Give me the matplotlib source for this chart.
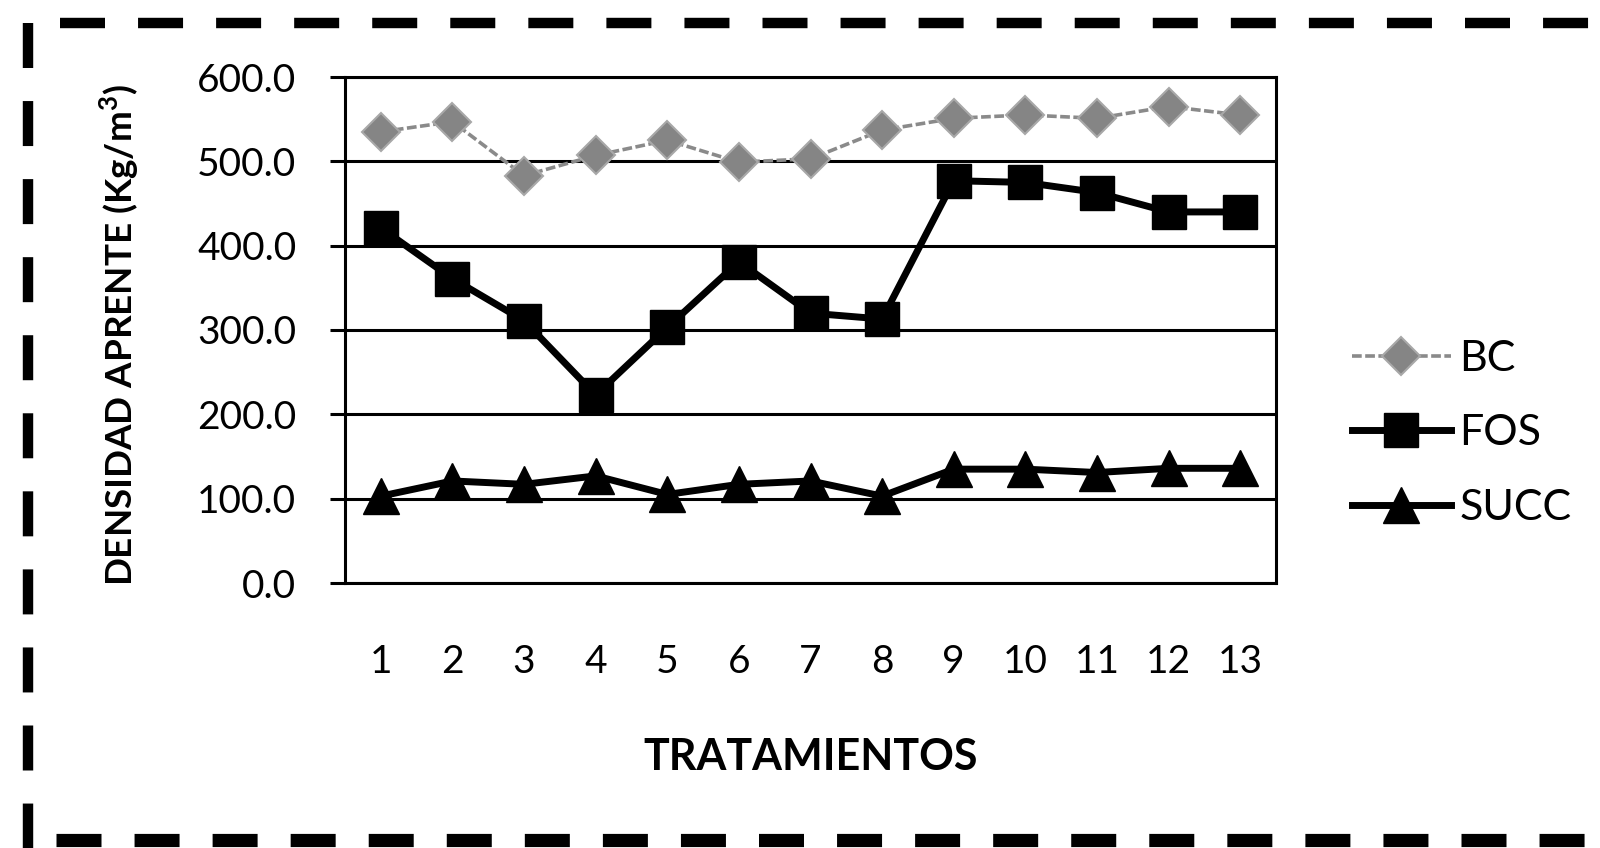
import matplotlib
matplotlib.use("Agg")
import matplotlib.pyplot as plt
from matplotlib.lines import Line2D
from matplotlib.ticker import FormatStrFormatter

plt.rcParams['font.family'] = ['Lato', 'DejaVu Sans']
plt.rcParams['lines.scale_dashes'] = False

# data
tratamientos = list(range(1, 14))
bc = [535, 547, 483, 507, 525, 499, 503, 537, 551, 555, 551, 565, 555]
fos = [421, 361, 311, 223, 303, 381, 320, 313, 477, 475, 463, 440, 440]
succ = [103, 121, 117, 127, 105, 117, 121, 103, 135, 135, 131, 136, 136]
y_ticks = [0, 100, 200, 300, 400, 500, 600]

W, H = 1600, 848
fig = plt.figure(figsize=(W / 100, H / 100), dpi=100)
ax = fig.add_axes([345 / W, 1 - 583 / H, 931 / W, 506 / H])

ax.plot(tratamientos, bc, color='#8a8a8a', lw=2.6, dashes=(7, 2.5),
        marker='D', markersize=19, markerfacecolor='#858585',
        markeredgecolor='#a8a8a8', markeredgewidth=1.5, label='BC', zorder=3)
ax.plot(tratamientos, fos, color='black', lw=5, marker='s', markersize=25,
        label='FOS', zorder=4)
ax.plot(tratamientos, succ, color='black', lw=5, marker='^', markersize=26,
        label='SUCC', zorder=4)

ax.set_xlim(0.5, 13.5)
ax.set_ylim(0, 600)
ax.set_xticks(tratamientos)
ax.set_yticks(y_ticks)
ax.yaxis.set_major_formatter(FormatStrFormatter('%.1f'))
ax.yaxis.grid(True, color='black', lw=2.2)
ax.set_axisbelow(True)
for s in ax.spines.values():
    s.set_linewidth(2.2)
ax.tick_params(axis='y', length=11, width=2.2, pad=24, labelsize=28)
ax.tick_params(axis='x', length=0, pad=44, labelsize=28)

ax.set_xlabel('TRATAMIENTOS', fontsize=31, fontweight='bold')
ax.xaxis.set_label_coords(0.5, -0.305)
ax.set_ylabel('DENSIDAD APRENTE (Kg/m$^\\mathregular{3}$)', fontsize=26.5,
              fontweight='bold')
ax.yaxis.set_label_coords(-0.218, 0.49)

ax.legend(loc='center left', bbox_to_anchor=(1.0816, 0.296), frameon=False,
          fontsize=31, borderpad=0, borderaxespad=0, handlelength=2.3,
          handletextpad=0.2, labelspacing=0.85)

# dashed frame around the figure (pixel positions from the scan)
def frame_line(xs, ys, lw):
    fig.add_artist(Line2D([x / W for x in xs], [1 - y / H for y in ys],
                          transform=fig.transFigure, color='black', lw=lw,
                          dashes=(32.4, 23.8), solid_capstyle='butt',
                          dash_capstyle='butt'))

frame_line([60, W], [23, 23], 7.5)
frame_line([28, 28], [23, H], 7.5)
frame_line([56, W], [840, 840], 9.5)

fig.savefig('out.png', dpi=100)
